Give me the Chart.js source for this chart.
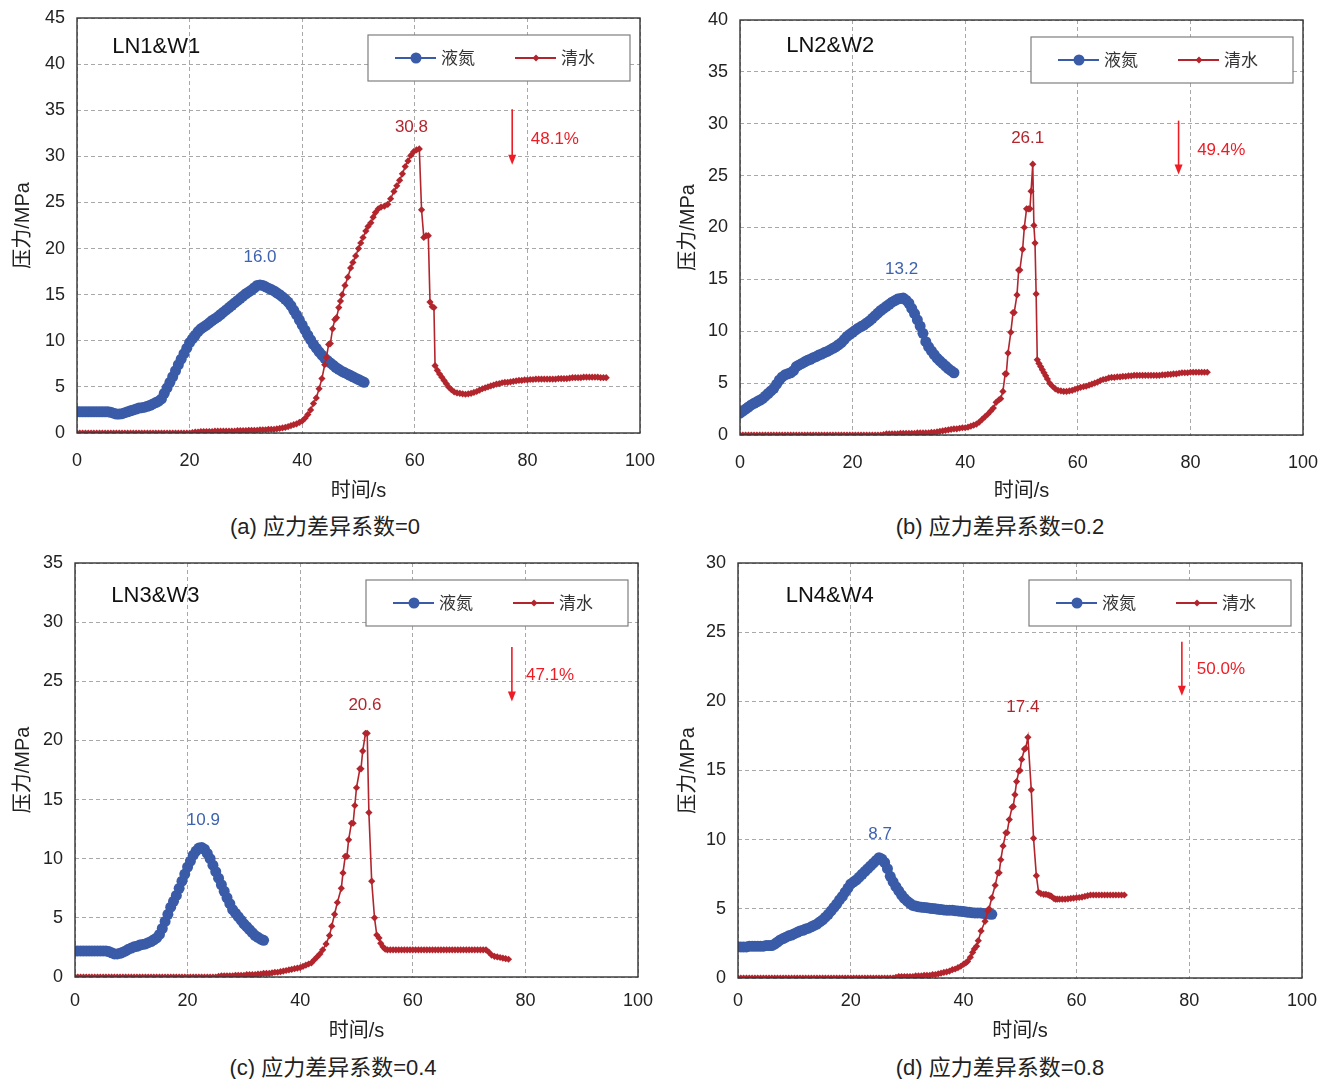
<!DOCTYPE html>
<html lang="zh-CN">
<head>
<meta charset="UTF-8">
<title>液氮与清水压裂压力-时间曲线</title>
<script src="https://cdn.jsdelivr.net/npm/chart.js"></script>
<style>
  body { margin: 0; background: #fff; }
  #wrap { position: relative; width: 1330px; height: 1079px; }
  .panel { position: absolute; width: 665px; height: 505px; }
  .cap { position: absolute; width: 650px; text-align: center; color: #222;
         font: 22px "Liberation Sans", "Noto Sans CJK SC", sans-serif; }
</style>
</head>
<body>
<div id="wrap">
  <div class="panel" style="left:0;top:0"><canvas id="c1" width="665" height="505"></canvas></div>
  <div class="panel" style="left:665px;top:0"><canvas id="c2" width="665" height="505"></canvas></div>
  <div class="panel" style="left:0;top:540px"><canvas id="c3" width="665" height="505"></canvas></div>
  <div class="panel" style="left:665px;top:540px"><canvas id="c4" width="665" height="505"></canvas></div>
  <div class="cap" id="cap1" style="left:0;top:508px"></div>
  <div class="cap" id="cap2" style="left:675px;top:508px"></div>
  <div class="cap" id="cap3" style="left:8px;top:1049px"></div>
  <div class="cap" id="cap4" style="left:675px;top:1049px"></div>
</div>
<script>
// ---- 数据 ----
const seriesNames = ['液氮', '清水'];
const sampleNames = ['LN1&W1', 'LN2&W2', 'LN3&W3', 'LN4&W4'];
const captions = ['(a) 应力差异系数=0', '(b) 应力差异系数=0.2', '(c) 应力差异系数=0.4', '(d) 应力差异系数=0.8'];
const yMaxes = [45, 40, 35, 30];
const xTicks = [0, 20, 40, 60, 80, 100];
const peakLN = ['16.0', '13.2', '10.9', '8.7'];
const peakW = ['30.8', '26.1', '20.6', '17.4'];
const drops = ['48.1%', '49.4%', '47.1%', '50.0%'];

// [时间 s, 压力 MPa]
const LN1 = [[0,2.3],[0.5,2.3],[1,2.3],[1.5,2.3],[2,2.3],[2.5,2.3],[3,2.3],[3.5,2.3],[4,2.3],[4.5,2.3],[5,2.3],[5.5,2.3],
  [6,2.25],[6.5,2.15],[7,2.05],[7.5,2.05],[8,2.1],[8.5,2.2],[9,2.3],[9.5,2.4],[10,2.5],[10.5,2.6],[11,2.7],[11.5,2.75],
  [12,2.8],[12.5,2.9],[13,3.0],[13.5,3.15],[14,3.3],[14.5,3.45],[15,3.7],[15.5,4.3],[16,4.9],[16.5,5.5],[17,6.1],[17.5,6.75],
  [18,7.4],[18.5,8.0],[19,8.6],[19.5,9.2],[20,9.8],[20.5,10.2],[21,10.6],[21.5,11.0],[22,11.3],[22.5,11.5],[23,11.7],[23.5,11.95],
  [24,12.2],[24.5,12.4],[25,12.6],[25.5,12.85],[26,13.1],[26.5,13.35],[27,13.6],[27.5,13.85],[28,14.1],[28.5,14.35],[29,14.6],[29.5,14.85],
  [30,15.1],[30.5,15.3],[31,15.5],[31.5,15.75],[32,16.0],[32.5,16.05],[33,16.0],[33.5,15.85],[34,15.7],[34.5,15.55],[35,15.4],[35.5,15.2],
  [36,15.0],[36.5,14.75],[37,14.5],[37.5,14.2],[38,13.8],[38.5,13.3],[39,12.8],[39.5,12.25],[40,11.7],[40.5,11.15],[41,10.6],[41.5,10.1],
  [42,9.6],[42.5,9.2],[43,8.8],[43.5,8.45],[44,8.1],[44.5,7.85],[45,7.6],[45.5,7.35],[46,7.1],[46.5,6.9],[47,6.7],[47.5,6.55],
  [48,6.4],[48.5,6.25],[49,6.1],[49.5,5.95],[50,5.8],[50.5,5.65],[51,5.5]];
const W1 = [[0,0],[0.5,0],[1,0],[1.5,0],[2,0],[2.5,0],[3,0],[3.5,0],[4,0],[4.5,0],[5,0],[5.5,0],[6,0],[6.5,0],[7,0],[7.5,0],
  [8,0],[8.5,0],[9,0],[9.5,0],[10,0],[10.5,0],[11,0],[11.5,0],[12,0],[12.5,0],[13,0],[13.5,0],[14,0],[14.5,0],[15,0],[15.5,0],
  [16,0],[16.5,0],[17,0],[17.5,0],[18,0],[18.5,0],[19,0],[19.5,0],[20,0],[20.5,0.05],[21,0.1],[21.5,0.1],[22,0.15],[22.5,0.15],
  [23,0.15],[23.5,0.15],[24,0.15],[24.5,0.2],[25,0.2],[25.5,0.2],[26,0.2],[26.5,0.2],[27,0.2],[27.5,0.2],[28,0.2],[28.5,0.25],
  [29,0.25],[29.5,0.25],[30,0.25],[30.5,0.3],[31,0.3],[31.5,0.3],[32,0.3],[32.5,0.35],[33,0.35],[33.5,0.35],[34,0.4],[34.5,0.4],
  [35,0.4],[35.5,0.45],[36,0.5],[36.5,0.55],[37,0.6],[37.5,0.7],[38,0.8],[38.5,0.9],[39,1.0],[39.5,1.15],[40,1.3],[40.5,1.6],
  [41,2.0],[41.5,2.5],[42,3.2],[42.5,3.8],[43,4.8],[43.5,5.9],[44,7.4],[44.3,8.2],[44.7,9.6],[45,9.7],[45.4,11.3],[45.8,12.3],
  [46.1,12.5],[46.5,13.6],[46.8,14.3],[47.1,15.0],[47.6,16.0],[48.1,16.9],[48.6,17.9],[49,18.5],[49.5,19.2],[50,20.0],[50.4,20.6],
  [50.8,21.2],[51.3,21.9],[51.7,22.4],[52.2,22.8],[52.6,23.4],[53,23.9],[53.5,24.3],[54,24.5],[54.6,24.6],[55.2,24.8],[55.7,25.4],
  [56.3,26.2],[56.8,26.8],[57.3,27.4],[57.8,28.1],[58.3,28.9],[58.8,29.5],[59.3,30.1],[59.8,30.5],[60.3,30.7],[60.8,30.8],
  [61.2,24.2],[61.6,21.2],[62,21.4],[62.4,21.4],[62.7,14.2],[63.1,13.7],[63.4,13.6],[63.6,7.3],[64,6.8],[64.4,6.4],[64.8,6.05],
  [65.2,5.7],[65.6,5.35],[66,5.0],[66.5,4.7],[67,4.45],[67.5,4.35],[68,4.3],[68.5,4.25],[69,4.2],[69.5,4.25],[70,4.3],[70.5,4.4],
  [71,4.5],[71.5,4.65],[72,4.8],[72.5,4.9],[73,5.0],[73.5,5.1],[74,5.2],[74.5,5.3],[75,5.35],[75.5,5.45],[76,5.5],[76.5,5.5],
  [77,5.55],[77.5,5.6],[78,5.65],[78.5,5.7],[79,5.7],[79.5,5.75],[80,5.75],[80.5,5.8],[81,5.8],[81.5,5.85],[82,5.85],[82.5,5.85],
  [83,5.85],[83.5,5.85],[84,5.85],[84.5,5.85],[85,5.85],[85.5,5.9],[86,5.9],[86.5,5.9],[87,5.9],[87.5,5.95],[88,6.0],[88.5,6.0],
  [89,6.0],[89.5,6.0],[90,6.05],[90.5,6.05],[91,6.05],[91.5,6.05],[92,6.05],[92.5,6.05],[93,6.0],[93.5,6.0],[94,6.0]];

const LN2 = [[0,2.1],[0.5,2.3],[1,2.5],[1.5,2.7],[2,2.9],[2.5,3.05],[3,3.2],[3.5,3.35],[4,3.5],[4.5,3.75],[5,4.0],[5.5,4.25],
  [6,4.5],[6.5,4.9],[7,5.3],[7.5,5.6],[8,5.8],[8.5,5.9],[9,6.0],[9.5,6.2],[10,6.6],[10.5,6.75],[11,6.9],[11.5,7.05],
  [12,7.2],[12.5,7.3],[13,7.45],[13.5,7.55],[14,7.7],[14.5,7.8],[15,7.95],[15.5,8.05],[16,8.2],[16.5,8.35],[17,8.5],[17.5,8.7],
  [18,8.9],[18.5,9.2],[19,9.5],[19.5,9.7],[20,9.9],[20.5,10.1],[21,10.3],[21.5,10.45],[22,10.6],[22.5,10.8],[23,11.0],[23.5,11.25],
  [24,11.5],[24.5,11.75],[25,12.0],[25.5,12.2],[26,12.4],[26.5,12.6],[27,12.8],[27.5,12.95],[28,13.1],[28.5,13.15],[29,13.2],[29.5,13.0],
  [30,12.7],[30.5,12.2],[31,11.7],[31.5,11.1],[32,10.5],[32.5,9.8],[33,9.0],[33.5,8.5],[34,8.1],[34.5,7.75],[35,7.4],[35.5,7.15],
  [36,6.9],[36.5,6.65],[37,6.4],[37.5,6.2],[38,6.0]];
const W2 = [[0,0],[0.5,0],[1,0],[1.5,0],[2,0],[2.5,0],[3,0],[3.5,0],[4,0],[4.5,0],[5,0],[5.5,0],[6,0],[6.5,0],[7,0],[7.5,0],
  [8,0],[8.5,0],[9,0],[9.5,0],[10,0],[10.5,0],[11,0],[11.5,0],[12,0],[12.5,0],[13,0],[13.5,0],[14,0],[14.5,0],[15,0],[15.5,0],
  [16,0],[16.5,0],[17,0],[17.5,0],[18,0],[18.5,0],[19,0],[19.5,0],[20,0],[20.5,0],[21,0],[21.5,0],[22,0],[22.5,0],[23,0],[23.5,0],
  [24,0],[24.5,0],[25,0],[25.5,0.05],[26,0.1],[26.5,0.1],[27,0.1],[27.5,0.1],[28,0.1],[28.5,0.15],[29,0.15],[29.5,0.15],[30,0.15],
  [30.5,0.15],[31,0.15],[31.5,0.2],[32,0.2],[32.5,0.2],[33,0.2],[33.5,0.2],[34,0.25],[34.5,0.25],[35,0.3],[35.5,0.35],[36,0.4],
  [36.5,0.45],[37,0.5],[37.5,0.55],[38,0.6],[38.5,0.6],[39,0.65],[39.5,0.7],[40,0.7],[40.5,0.75],[41,0.85],[41.5,0.95],[42,1.05],
  [42.5,1.25],[43,1.5],[43.5,1.75],[44,2.0],[44.5,2.3],[45,2.6],[45.5,3.15],[46,3.4],[46.3,3.5],[46.7,4.2],[47.1,5.9],[47.3,5.9],
  [47.6,7.9],[48.1,9.9],[48.5,11.8],[48.7,11.8],[49.2,13.5],[49.5,15.9],[49.7,15.9],[50.2,17.9],[50.5,20.0],[50.9,21.8],[51.2,21.8],
  [51.5,21.8],[51.7,23.5],[52,26.1],[52.2,20.2],[52.4,18.5],[52.6,13.6],[52.8,7.25],[53.1,6.9],[53.4,6.6],[53.7,6.3],[54,6.0],
  [54.3,5.7],[54.6,5.4],[55,5.0],[55.5,4.7],[56,4.45],[56.5,4.3],[57,4.25],[57.5,4.2],[58,4.2],[58.5,4.25],[59,4.3],[59.5,4.4],
  [60,4.5],[60.5,4.6],[61,4.65],[61.5,4.7],[62,4.8],[62.5,4.9],[63,5.0],[63.5,5.1],[64,5.25],[64.5,5.35],[65,5.4],[65.5,5.5],
  [66,5.55],[66.5,5.55],[67,5.6],[67.5,5.6],[68,5.65],[68.5,5.65],[69,5.7],[69.5,5.7],[70,5.75],[70.5,5.75],[71,5.75],[71.5,5.75],
  [72,5.75],[72.5,5.75],[73,5.75],[73.5,5.75],[74,5.75],[74.5,5.75],[75,5.8],[75.5,5.8],[76,5.85],[76.5,5.85],[77,5.9],[77.5,5.9],
  [78,5.95],[78.5,6.0],[79,6.0],[79.5,6.0],[80,6.05],[80.5,6.05],[81,6.05],[81.5,6.05],[82,6.05],[82.5,6.05],[83,6.05]];

const LN3 = [[0,2.2],[0.5,2.2],[1,2.2],[1.5,2.2],[2,2.2],[2.5,2.2],[3,2.2],[3.5,2.2],[4,2.2],[4.5,2.2],[5,2.2],[5.5,2.2],
  [6,2.15],[6.5,2.05],[7,1.95],[7.5,1.95],[8,2.0],[8.5,2.1],[9,2.2],[9.5,2.35],[10,2.45],[10.5,2.55],[11,2.6],[11.5,2.7],
  [12,2.75],[12.5,2.8],[13,2.9],[13.5,3.0],[14,3.15],[14.5,3.3],[15,3.6],[15.5,4.1],[16,4.7],[16.5,5.3],[17,5.9],[17.5,6.4],
  [18,6.9],[18.5,7.5],[19,8.1],[19.5,8.7],[20,9.3],[20.5,9.8],[21,10.3],[21.5,10.65],[22,10.9],[22.5,10.95],[23,10.8],[23.5,10.45],
  [24,10.0],[24.5,9.45],[25,8.9],[25.5,8.35],[26,7.8],[26.5,7.25],[27,6.7],[27.5,6.2],[28,5.7],[28.5,5.4],[29,5.1],[29.5,4.8],
  [30,4.5],[30.5,4.25],[31,4.0],[31.5,3.75],[32,3.5],[32.5,3.35],[33,3.2],[33.5,3.1]];
const W3 = [[0,0],[0.5,0],[1,0],[1.5,0],[2,0],[2.5,0],[3,0],[3.5,0],[4,0],[4.5,0],[5,0],[5.5,0],[6,0],[6.5,0],[7,0],[7.5,0],
  [8,0],[8.5,0],[9,0],[9.5,0],[10,0],[10.5,0],[11,0],[11.5,0],[12,0],[12.5,0],[13,0],[13.5,0],[14,0],[14.5,0],[15,0],[15.5,0],
  [16,0],[16.5,0],[17,0],[17.5,0],[18,0],[18.5,0],[19,0],[19.5,0],[20,0],[20.5,0],[21,0],[21.5,0],[22,0],[22.5,0],[23,0],[23.5,0],
  [24,0],[24.5,0],[25,0],[25.5,0.05],[26,0.1],[26.5,0.1],[27,0.1],[27.5,0.1],[28,0.1],[28.5,0.15],[29,0.15],[29.5,0.15],[30,0.15],
  [30.5,0.2],[31,0.2],[31.5,0.2],[32,0.2],[32.5,0.25],[33,0.25],[33.5,0.3],[34,0.3],[34.5,0.3],[35,0.35],[35.5,0.4],[36,0.4],
  [36.5,0.45],[37,0.5],[37.5,0.55],[38,0.6],[38.5,0.65],[39,0.7],[39.5,0.75],[40,0.8],[40.5,0.9],[41,1.0],[41.5,1.1],[42,1.2],
  [42.5,1.45],[43,1.7],[43.5,1.95],[44,2.3],[44.6,2.8],[45.2,3.5],[45.6,4.3],[46.1,5.3],[46.6,6.3],[47.3,7.5],[47.6,8.8],[48,10.2],
  [48.3,10.2],[48.6,11.6],[49.1,13.0],[49.4,13.0],[49.7,14.5],[50,16.0],[50.6,17.6],[50.8,17.6],[51.1,19.1],[51.6,20.6],[51.9,20.6],
  [52.2,13.9],[52.7,8.1],[53.2,5.0],[53.6,3.55],[54,3.3],[54.3,2.85],[54.7,2.55],[55.1,2.35],[55.5,2.3],[56,2.3],[56.5,2.3],
  [57,2.3],[57.5,2.3],[58,2.3],[58.5,2.3],[59,2.3],[59.5,2.3],[60,2.3],[60.5,2.3],[61,2.3],[61.5,2.3],[62,2.3],[62.5,2.3],
  [63,2.3],[63.5,2.3],[64,2.3],[64.5,2.3],[65,2.3],[65.5,2.3],[66,2.3],[66.5,2.3],[67,2.3],[67.5,2.3],[68,2.3],[68.5,2.3],
  [69,2.3],[69.5,2.3],[70,2.3],[70.5,2.3],[71,2.3],[71.5,2.3],[72,2.3],[72.5,2.3],[73,2.3],[73.5,2.1],[74,1.85],[74.5,1.75],
  [75,1.7],[75.5,1.65],[76,1.6],[76.5,1.55],[77,1.5]];

const LN4 = [[0,2.25],[0.5,2.25],[1,2.25],[1.5,2.25],[2,2.3],[2.5,2.3],[3,2.3],[3.5,2.3],[4,2.3],[4.5,2.3],[5,2.35],[5.5,2.35],
  [6,2.35],[6.5,2.45],[7,2.6],[7.5,2.75],[8,2.85],[8.5,2.95],[9,3.05],[9.5,3.1],[10,3.2],[10.5,3.3],[11,3.4],[11.5,3.45],
  [12,3.55],[12.5,3.6],[13,3.7],[13.5,3.8],[14,3.9],[14.5,4.05],[15,4.2],[15.5,4.4],[16,4.6],[16.5,4.85],[17,5.1],[17.5,5.35],
  [18,5.65],[18.5,5.9],[19,6.2],[19.5,6.5],[20,6.8],[20.5,6.95],[21,7.1],[21.5,7.3],[22,7.5],[22.5,7.7],[23,7.9],[23.5,8.1],
  [24,8.3],[24.5,8.5],[25,8.7],[25.5,8.6],[26,8.35],[26.5,7.9],[27,7.35],[27.5,6.95],[28,6.6],[28.5,6.3],[29,6.0],[29.5,5.75],
  [30,5.55],[30.5,5.4],[31,5.25],[31.5,5.2],[32,5.15],[32.5,5.12],[33,5.1],[33.5,5.08],[34,5.05],[34.5,5.02],[35,5.0],[35.5,4.97],
  [36,4.95],[36.5,4.92],[37,4.9],[37.5,4.9],[38,4.9],[38.5,4.87],[39,4.85],[39.5,4.82],[40,4.8],[40.5,4.77],[41,4.75],[41.5,4.72],
  [42,4.7],[42.5,4.7],[43,4.7],[43.5,4.67],[44,4.65],[44.5,4.62],[45,4.6]];
const W4 = [[0,0],[0.5,0],[1,0],[1.5,0],[2,0],[2.5,0],[3,0],[3.5,0],[4,0],[4.5,0],[5,0],[5.5,0],[6,0],[6.5,0],[7,0],[7.5,0],
  [8,0],[8.5,0],[9,0],[9.5,0],[10,0],[10.5,0],[11,0],[11.5,0],[12,0],[12.5,0],[13,0],[13.5,0],[14,0],[14.5,0],[15,0],[15.5,0],
  [16,0],[16.5,0],[17,0],[17.5,0],[18,0],[18.5,0],[19,0],[19.5,0],[20,0],[20.5,0],[21,0],[21.5,0],[22,0],[22.5,0],[23,0],[23.5,0],
  [24,0],[24.5,0],[25,0],[25.5,0],[26,0],[26.5,0],[27,0],[27.5,0],[28,0.05],[28.5,0.1],[29,0.1],[29.5,0.1],[30,0.1],[30.5,0.1],
  [31,0.1],[31.5,0.15],[32,0.15],[32.5,0.15],[33,0.2],[33.5,0.2],[34,0.2],[34.5,0.25],[35,0.25],[35.5,0.3],[36,0.35],[36.5,0.4],
  [37,0.45],[37.5,0.5],[38,0.6],[38.5,0.65],[39,0.75],[39.5,0.85],[40,1.0],[40.4,1.1],[40.7,1.2],[41.2,1.5],[41.6,1.85],[41.9,2.1],
  [42.3,2.3],[42.6,2.7],[43.1,3.4],[43.8,4.1],[44.3,4.85],[44.5,5.0],[45,5.8],[45.6,6.7],[46.1,7.6],[46.3,7.6],[46.6,8.55],[47,9.55],
  [47.5,10.5],[47.7,10.5],[48.1,11.45],[48.6,12.35],[48.8,12.4],[49.1,13.25],[49.4,14.2],[49.8,14.95],[50,15.0],[50.3,15.8],
  [50.8,16.55],[51,16.6],[51.4,17.4],[52,13.6],[52.4,10.1],[52.9,7.4],[53.3,6.2],[53.7,6.1],[54.2,6.05],[54.6,6.05],[55,6.0],
  [55.3,5.95],[55.6,5.9],[56,5.75],[56.3,5.7],[56.6,5.7],[57,5.7],[57.5,5.7],[58,5.7],[58.5,5.72],[59,5.75],[59.5,5.78],[60,5.8],
  [60.5,5.82],[61,5.85],[61.5,5.9],[62,5.95],[62.5,6.0],[63,6.0],[63.5,6.0],[64,6.0],[64.5,6.0],[65,6.0],[65.5,6.0],[66,6.0],
  [66.5,6.0],[67,6.0],[67.5,6.0],[68,6.0],[68.5,6.0]];

const lnSeries = [LN1, LN2, LN3, LN4];
const wSeries = [W1, W2, W3, W4];

// ---- 样式 / 布局 ----
const BLUE = '#3a5ba8', RED = '#b3252d', BRIGHT = '#ee1c25';
const FONT = '"Liberation Sans", "Noto Sans CJK SC", sans-serif';
// 每个面板绘图区 (画布内像素), xt = x 轴标签下移量
const areas = [
  {l: 77, t: 18, r: 640, b: 433, xt: 14},
  {l: 75, t: 20, r: 638, b: 435, xt: 14},
  {l: 75, t: 23, r: 638, b: 437, xt: 10},
  {l: 73, t: 23, r: 637, b: 438, xt: 9}
];
// 注释位置 (数据坐标)
const notes = [
  {tag: [6.25, 41.9], ln: [32.5, 19.0], w: [59.4, 33.2], arrow: [77.3, 35.1, 29.1], pct: [80.6, 31.8]},
  {tag: [8.2, 37.5], ln: [28.7, 16.0], w: [51.1, 28.6], arrow: [77.9, 30.3, 25.1], pct: [81.2, 27.4]},
  {tag: [6.46, 32.2], ln: [22.8, 13.25], w: [51.5, 23.0], arrow: [77.6, 27.9, 23.3], pct: [80.1, 25.5]},
  {tag: [8.45, 27.6], ln: [25.2, 10.4], w: [50.5, 19.6], arrow: [78.7, 24.3, 20.4], pct: [81.35, 22.3]}
];

const decor = {
  id: 'decor',
  afterDatasetsDraw(chart, args, o) {
    const {ctx, chartArea: a, scales: {x, y}} = chart;
    const n = notes[o.idx];
    ctx.save();
    ctx.textBaseline = 'middle';
    // 样品名
    ctx.fillStyle = '#111';
    ctx.font = '22px ' + FONT;
    ctx.textAlign = 'left';
    ctx.fillText(sampleNames[o.idx], x.getPixelForValue(n.tag[0]), y.getPixelForValue(n.tag[1]));
    // 峰值
    ctx.font = '17px ' + FONT;
    ctx.textAlign = 'center';
    ctx.fillStyle = '#3d62b0';
    ctx.fillText(peakLN[o.idx], x.getPixelForValue(n.ln[0]), y.getPixelForValue(n.ln[1]));
    ctx.fillStyle = RED;
    ctx.fillText(peakW[o.idx], x.getPixelForValue(n.w[0]), y.getPixelForValue(n.w[1]));
    // 降幅箭头
    const ax = x.getPixelForValue(n.arrow[0]);
    const ay1 = y.getPixelForValue(n.arrow[1]), ay2 = y.getPixelForValue(n.arrow[2]);
    ctx.strokeStyle = BRIGHT; ctx.fillStyle = BRIGHT; ctx.lineWidth = 1.6;
    ctx.beginPath(); ctx.moveTo(ax, ay1); ctx.lineTo(ax, ay2 - 8); ctx.stroke();
    ctx.beginPath(); ctx.moveTo(ax - 4, ay2 - 10); ctx.lineTo(ax + 4, ay2 - 10); ctx.lineTo(ax, ay2); ctx.closePath(); ctx.fill();
    ctx.textAlign = 'left';
    ctx.fillText(drops[o.idx], x.getPixelForValue(n.pct[0]), y.getPixelForValue(n.pct[1]));
    // 图例
    const lx = a.left + 291, ly = a.top + 17, lw = 262, lh = 46, cy = ly + lh / 2;
    ctx.fillStyle = '#fff'; ctx.fillRect(lx, ly, lw, lh);
    ctx.strokeStyle = '#7f7f7f'; ctx.lineWidth = 1.2; ctx.strokeRect(lx, ly, lw, lh);
    ctx.lineWidth = 2;
    ctx.strokeStyle = BLUE;
    ctx.beginPath(); ctx.moveTo(lx + 27, cy); ctx.lineTo(lx + 68, cy); ctx.stroke();
    ctx.fillStyle = BLUE;
    ctx.beginPath(); ctx.arc(lx + 48, cy, 5.5, 0, Math.PI * 2); ctx.fill();
    ctx.strokeStyle = RED;
    ctx.beginPath(); ctx.moveTo(lx + 147, cy); ctx.lineTo(lx + 188, cy); ctx.stroke();
    ctx.fillStyle = RED;
    ctx.beginPath(); ctx.moveTo(lx + 168, cy - 3.5); ctx.lineTo(lx + 171.5, cy); ctx.lineTo(lx + 168, cy + 3.5); ctx.lineTo(lx + 164.5, cy); ctx.closePath(); ctx.fill();
    ctx.fillStyle = '#333';
    ctx.font = '17px ' + FONT;
    ctx.fillText(seriesNames[0], lx + 73, cy + 1);
    ctx.fillText(seriesNames[1], lx + 193, cy + 1);
    ctx.restore();
  },
  afterDraw(chart) {
    const {ctx, chartArea: a} = chart;
    ctx.save();
    ctx.strokeStyle = '#333'; ctx.lineWidth = 1.4;
    ctx.strokeRect(a.left, a.top, a.right - a.left, a.bottom - a.top);
    ctx.restore();
  }
};

function makeChart(i) {
  const A = areas[i], W = 665, H = 505;
  const toXY = rows => rows.map(r => ({x: r[0], y: r[1]}));
  new Chart(document.getElementById('c' + (i + 1)), {
    type: 'line',
    data: {
      datasets: [
        {label: seriesNames[1], data: toXY(wSeries[i]), borderColor: RED, backgroundColor: RED,
         borderWidth: 1.6, pointStyle: 'rectRot', pointRadius: 3.6, pointBorderWidth: 0, tension: 0},
        {label: seriesNames[0], data: toXY(lnSeries[i]), borderColor: BLUE, backgroundColor: BLUE,
         borderWidth: 2, pointStyle: 'circle', pointRadius: 5.5, pointBorderWidth: 0, tension: 0}
      ]
    },
    options: {
      responsive: false,
      animation: false,
      layout: {padding: {left: 0, top: A.t, right: W - A.r, bottom: 0}},
      plugins: {legend: {display: false}, tooltip: {enabled: false}, decor: {idx: i}},
      scales: {
        x: {
          type: 'linear', min: 0, max: 100,
          afterBuildTicks: s => { s.ticks = xTicks.map(v => ({value: v})); },
          afterFit: s => { s.height = H - A.b; },
          grid: {color: '#a8a8a8', drawTicks: true, tickLength: A.xt, tickColor: 'rgba(0,0,0,0)'},
          border: {display: false, dash: [4, 3]},
          ticks: {color: '#222', font: {size: 18, family: FONT}, padding: 3},
          title: {display: true, text: '时间/s', color: '#222', font: {size: 20, family: FONT}, padding: {top: 0, bottom: 2}}
        },
        y: {
          min: 0, max: yMaxes[i],
          ticks: {stepSize: 5, color: '#222', font: {size: 18, family: FONT}, padding: 2},
          afterFit: s => { s.width = A.l; },
          grid: {color: '#a8a8a8', drawTicks: true, tickLength: 10, tickColor: 'rgba(0,0,0,0)'},
          border: {display: false, dash: [4, 3]},
          title: {display: true, text: '压力/MPa', color: '#222', font: {size: 20, family: FONT}, padding: {top: 11, bottom: 0}}
        }
      }
    },
    plugins: [decor]
  });
  document.getElementById('cap' + (i + 1)).textContent = captions[i];
}

[0, 1, 2, 3].forEach(makeChart);
</script>
</body>
</html>
